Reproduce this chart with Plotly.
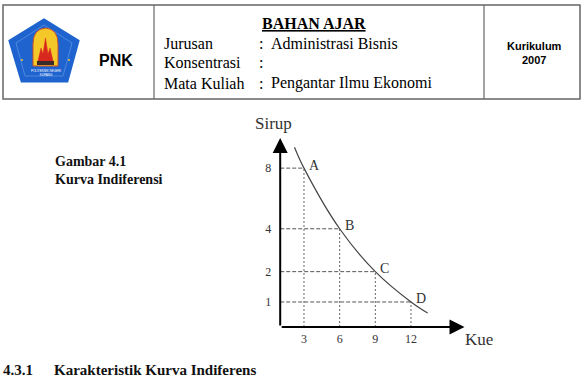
import numpy as np
import plotly.graph_objects as go

W, H = 582, 380

# ---- data ----
kue = [3, 6, 9, 12]
sirup = [8, 4, 2, 1]
point_labels = ["A", "B", "C", "D"]
curve_kue = [2.2, 3, 6, 9, 12, 13.4]
curve_sirup = [9.7, 8, 4, 2, 1, 0.72]
x_ticks = [3, 6, 9, 12]
y_ticks = [1, 2, 4, 8]
x_title = "Kue"
y_title = "Sirup"

# schematic vertical scale of the figure (square-root spacing)
def sy(v):
    return np.sqrt(np.asarray(v, dtype=float))

X_RANGE = [1.0, 16.5]
Y_RANGE = [0.658, 3.24]

def px(x):
    return x / W

def py(y):
    return 1 - y / H

SERIF = "Liberation Serif"
SANS = "Liberation Sans"
GRAY = "#333333"

fig = go.Figure()

# dashed guide lines
hx, hy, vx, vy = [], [], [], []
for k, s in zip(kue, sy(sirup)):
    hx += [X_RANGE[0], k, None]
    hy += [s, s, None]
    vx += [k, k, None]
    vy += [Y_RANGE[0], s, None]
fig.add_trace(go.Scatter(x=hx, y=hy, mode="lines", hoverinfo="skip",
                         line=dict(color="#555555", width=1, dash="4px,2px")))
fig.add_trace(go.Scatter(x=vx, y=vy, mode="lines", hoverinfo="skip",
                         line=dict(color="#666666", width=1, dash="2px,2px")))

# indifference curve
fig.add_trace(go.Scatter(x=curve_kue, y=sy(curve_sirup), mode="lines",
                         line=dict(color="#444444", width=1.2, shape="spline", smoothing=1.0),
                         hoverinfo="skip"))

annotations = []
# axes with arrows
annotations.append(dict(x=X_RANGE[1], y=Y_RANGE[0], ax=X_RANGE[0], ay=Y_RANGE[0],
                        xref="x", yref="y", axref="x", ayref="y", text="",
                        showarrow=True, arrowhead=2, arrowsize=1.5, arrowwidth=2,
                        arrowcolor="black", standoff=0, startstandoff=0))
annotations.append(dict(x=X_RANGE[0], y=Y_RANGE[1], ax=X_RANGE[0], ay=Y_RANGE[0],
                        xref="x", yref="y", axref="x", ayref="y", text="",
                        showarrow=True, arrowhead=2, arrowsize=1.5, arrowwidth=2,
                        arrowcolor="black", standoff=0, startstandoff=0))

# point labels
for k, s, lab in zip(kue, sy(sirup), point_labels):
    annotations.append(dict(x=k, y=s, xref="x", yref="y", text=lab, showarrow=False,
                            xanchor="left", yanchor="middle", xshift=3, yshift=3,
                            font=dict(family=SERIF, size=14, color=GRAY)))

# axis titles
annotations.append(dict(x=px(273), y=py(123), xref="paper", yref="paper", text=y_title,
                        showarrow=False, xanchor="center", yanchor="middle",
                        font=dict(family=SERIF, size=17, color=GRAY)))
annotations.append(dict(x=px(479), y=py(339), xref="paper", yref="paper", text=x_title,
                        showarrow=False, xanchor="center", yanchor="middle",
                        font=dict(family=SERIF, size=17, color=GRAY)))

# figure caption
annotations.append(dict(x=px(53), y=py(171), xref="paper", yref="paper",
                        text="<b>Gambar 4.1</b><br><b>Kurva Indiferensi</b>",
                        showarrow=False, xanchor="left", yanchor="middle", align="left",
                        font=dict(family=SERIF, size=14, color="#111111")))

# header texts
annotations.append(dict(x=px(116), y=py(60), xref="paper", yref="paper", text="<b>PNK</b>",
                        showarrow=False, xanchor="center", yanchor="middle",
                        font=dict(family=SANS, size=16, color="black")))
annotations.append(dict(x=px(314), y=py(24), xref="paper", yref="paper",
                        text="<b><u>BAHAN AJAR</u></b>",
                        showarrow=False, xanchor="center", yanchor="middle",
                        font=dict(family=SERIF, size=16, color="black")))
rows = [("Jurusan", "Administrasi Bisnis"), ("Konsentrasi", ""), ("Mata Kuliah", "Pengantar Ilmu Ekonomi")]
for i, (lbl, val) in enumerate(rows):
    yy = 43 + 20 * i
    annotations.append(dict(x=px(162), y=py(yy), xref="paper", yref="paper", text=lbl,
                            showarrow=False, xanchor="left", yanchor="middle",
                            font=dict(family=SERIF, size=16, color="black")))
    annotations.append(dict(x=px(257), y=py(yy), xref="paper", yref="paper", text=":",
                            showarrow=False, xanchor="left", yanchor="middle",
                            font=dict(family=SERIF, size=16, color="black")))
    if val:
        annotations.append(dict(x=px(269), y=py(yy), xref="paper", yref="paper", text=val,
                                showarrow=False, xanchor="left", yanchor="middle",
                                font=dict(family=SERIF, size=16, color="black")))
annotations.append(dict(x=px(534), y=py(53), xref="paper", yref="paper",
                        text="<b>Kurikulum</b><br><b>2007</b>",
                        showarrow=False, xanchor="center", yanchor="middle", align="center",
                        font=dict(family=SANS, size=11, color="black")))

# section heading at bottom
annotations.append(dict(x=px(1), y=0, xref="paper", yref="paper",
                        text="<b>4.3.1</b>", showarrow=False, xanchor="left", yanchor="bottom",
                        font=dict(family=SERIF, size=15, color="#111111")))
annotations.append(dict(x=px(52), y=0, xref="paper", yref="paper",
                        text="<b>Karakteristik Kurva Indiferens</b>", showarrow=False,
                        xanchor="left", yanchor="bottom",
                        font=dict(family=SERIF, size=15, color="#111111")))

# logo tiny text
annotations.append(dict(x=px(45.5), y=py(73), xref="paper", yref="paper",
                        text="POLITEKNIK NEGERI<br>KUPANG", showarrow=False,
                        xanchor="center", yanchor="middle",
                        font=dict(family=SANS, size=3, color="white")))

def path(points, close=True):
    s = "M " + " L ".join(f"{px(x):.5f},{py(y):.5f}" for x, y in points)
    return s + (" Z" if close else "")

shapes = []
# header table
shapes.append(dict(type="rect", xref="paper", yref="paper", x0=px(3), x1=px(580),
                   y0=py(99), y1=py(5), line=dict(color="#666666", width=1.5)))
for xv in (154, 484):
    shapes.append(dict(type="line", xref="paper", yref="paper", x0=px(xv), x1=px(xv),
                       y0=py(99), y1=py(5), line=dict(color="#666666", width=1.2)))

# logo: blue pentagon
shapes.append(dict(type="path", xref="paper", yref="paper",
                   path=path([(44, 20), (78, 41), (67, 81), (22, 81), (10, 41)]),
                   fillcolor="#1F63CF", line=dict(color="#1F63CF", width=3)))
# inner ring
shapes.append(dict(type="path", xref="paper", yref="paper",
                   path=path([(44, 25), (72, 43), (63, 76), (25, 76), (16, 43)]),
                   fillcolor="rgba(0,0,0,0)", line=dict(color="#6FA0E8", width=0.6)))
# yellow arch
arch = "M {} L {} Q {} {} Q {} {} L {} Z".format(
    f"{px(33):.5f},{py(66):.5f}", f"{px(33):.5f},{py(44):.5f}",
    f"{px(33):.5f},{py(29):.5f}", f"{px(45.5):.5f},{py(28):.5f}",
    f"{px(58):.5f},{py(29):.5f}", f"{px(58):.5f},{py(44):.5f}",
    f"{px(58):.5f},{py(66):.5f}")
shapes.append(dict(type="path", xref="paper", yref="paper", path=arch,
                   fillcolor="#F5C82A", line=dict(color="#C8502A", width=1)))
# red flames
shapes.append(dict(type="path", xref="paper", yref="paper",
                   path=path([(38, 61), (41, 48), (43, 54), (45.5, 38), (48, 54), (50, 48), (53, 61)]),
                   fillcolor="#D8281E", line=dict(color="#D8281E", width=0.5)))
# dark base
shapes.append(dict(type="rect", xref="paper", yref="paper", x0=px(37), x1=px(54),
                   y0=py(65), y1=py(61), fillcolor="#3A2A2A", line=dict(width=0)))
# small dots
for dx in (22, 69):
    shapes.append(dict(type="circle", xref="paper", yref="paper", x0=px(dx - 1), x1=px(dx + 1),
                       y0=py(61), y1=py(59), fillcolor="#F5C82A", line=dict(width=0)))

fig.update_layout(
    width=W, height=H,
    margin=dict(l=0, r=0, t=0, b=0),
    paper_bgcolor="white", plot_bgcolor="white",
    showlegend=False,
    xaxis=dict(domain=[280.2 / W, 464.5 / W], range=X_RANGE, showgrid=False, zeroline=False,
               showline=False, tickmode="array", tickvals=x_ticks,
               ticktext=[str(t) for t in x_ticks], ticks="", ticklabelstandoff=3,
               tickfont=dict(family=SERIF, size=12, color=GRAY), fixedrange=True),
    yaxis=dict(domain=[py(327), py(138)], range=Y_RANGE, showgrid=False, zeroline=False,
               showline=False, tickmode="array", tickvals=list(sy(y_ticks)),
               ticktext=[str(t) for t in y_ticks], ticks="", ticklabelstandoff=8,
               tickfont=dict(family=SERIF, size=12, color=GRAY), fixedrange=True),
    annotations=annotations,
    shapes=shapes,
)

fig.write_html("out.html")
